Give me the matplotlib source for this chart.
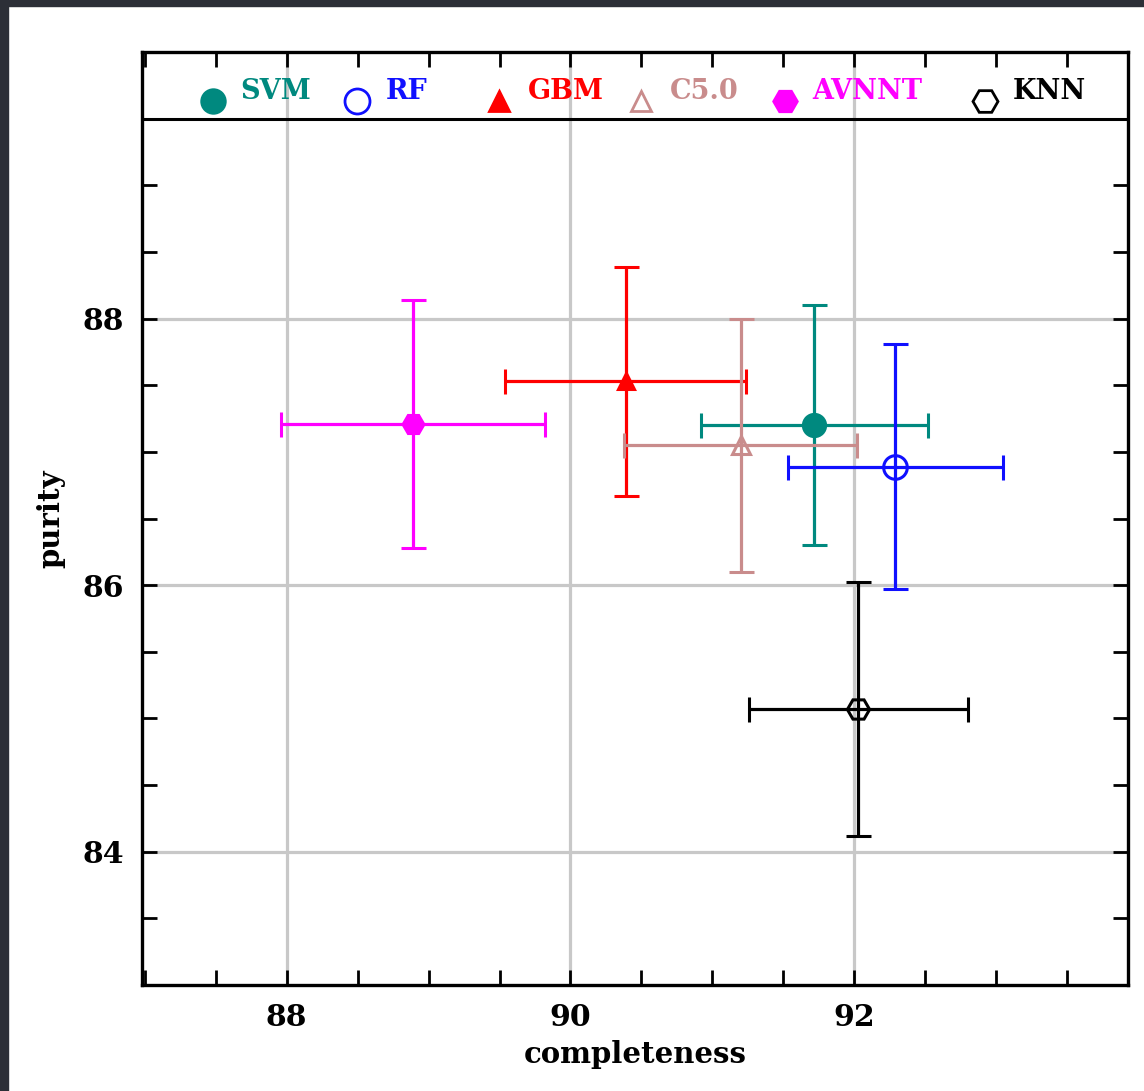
import matplotlib.pyplot as plt
from matplotlib.patches import Rectangle
from matplotlib.ticker import MultipleLocator

# classifier results: completeness / purity with 1-sigma errors
models = ["SVM", "RF", "GBM", "C5.0", "AVNNT", "KNN"]
completeness = [91.72, 92.29, 90.39, 91.20, 88.89, 92.03]
completeness_err = [0.80, 0.76, 0.85, 0.82, 0.93, 0.77]
purity = [87.20, 86.89, 87.53, 87.05, 87.21, 85.07]
purity_err = [0.90, 0.92, 0.86, 0.95, 0.93, 0.95]

colors = ["#00897f", "#1010ff", "#ff0000", "#c98c8c", "#ff00ff", "#000000"]
markers = ["o", "o", "^", "^", "H", "H"]
filled = [True, False, True, False, True, False]
msizes = [16, 17, 12, 13, 15, 16]

# key strip along the top: marker x, text x (axes fraction)
key_mx = [0.072, 0.218, 0.362, 0.506, 0.652, 0.855]
key_tx = [0.100, 0.247, 0.391, 0.535, 0.680, 0.883]
key_ms = [17, 18, 14, 14, 17, 18]

SERIF = "DejaVu Serif"

fig = plt.figure(figsize=(11.44, 10.91), dpi=100)
fig.patch.set_facecolor("white")
# dark screenshot border on top and left
fig.patches.append(Rectangle((0, 1 - 6 / 1091), 1, 6 / 1091, transform=fig.transFigure,
                             color="#2c2f37", zorder=0))
fig.patches.append(Rectangle((0, 0), 8 / 1144, 1, transform=fig.transFigure,
                             color="#2c2f37", zorder=0))

ax = fig.add_axes([142 / 1144, 106 / 1091, 986 / 1144, 933 / 1091])
ax.set_xlim(86.98, 93.93)
ax.set_ylim(83.0, 90.0)

for x in [88, 90, 92]:
    ax.axvline(x, color="#c8c8c8", lw=2.3, zorder=0)
for y in [84, 86, 88]:
    ax.axhline(y, color="#c8c8c8", lw=2.3, zorder=0)
ax.axhline(89.5, color="black", lw=2.2, zorder=3)

for i in range(len(models)):
    ax.errorbar(completeness[i], purity[i], xerr=completeness_err[i], yerr=purity_err[i],
                fmt=markers[i], color=colors[i], ms=msizes[i],
                mfc=colors[i] if filled[i] else "none", mew=2.2,
                elinewidth=2.3, capsize=9, capthick=2.3, zorder=4)

    ax.plot(key_mx[i], 0.948, marker=markers[i], ms=key_ms[i], color=colors[i],
            mfc=colors[i] if filled[i] else "none", mew=2.0,
            transform=ax.transAxes, clip_on=False, zorder=5)
    ax.text(key_tx[i], 0.958, models[i], color=colors[i], transform=ax.transAxes,
            fontsize=19.5, fontfamily=SERIF, fontweight="bold",
            va="center", ha="left")

ax.xaxis.set_major_locator(MultipleLocator(2))
ax.xaxis.set_minor_locator(MultipleLocator(0.5))
ax.set_yticks([84, 86, 88])
ax.set_yticks([83.5, 84.5, 85, 85.5, 86.5, 87, 87.5, 88.5, 89], minor=True)

ax.tick_params(which="both", direction="in", top=True, right=True, width=2, length=11)
ax.tick_params(which="major", labelsize=21.5, pad=13)
for lab in ax.get_xticklabels() + ax.get_yticklabels():
    lab.set_fontfamily(SERIF)
    lab.set_fontweight("bold")

for sp in ax.spines.values():
    sp.set_linewidth(2.4)

ax.set_xlabel("completeness", fontsize=21, fontfamily=SERIF, fontweight="bold", labelpad=6)
ax.set_ylabel("purity", fontsize=21, fontfamily=SERIF, fontweight="bold", labelpad=12)

fig.savefig("out.png", dpi=100)
